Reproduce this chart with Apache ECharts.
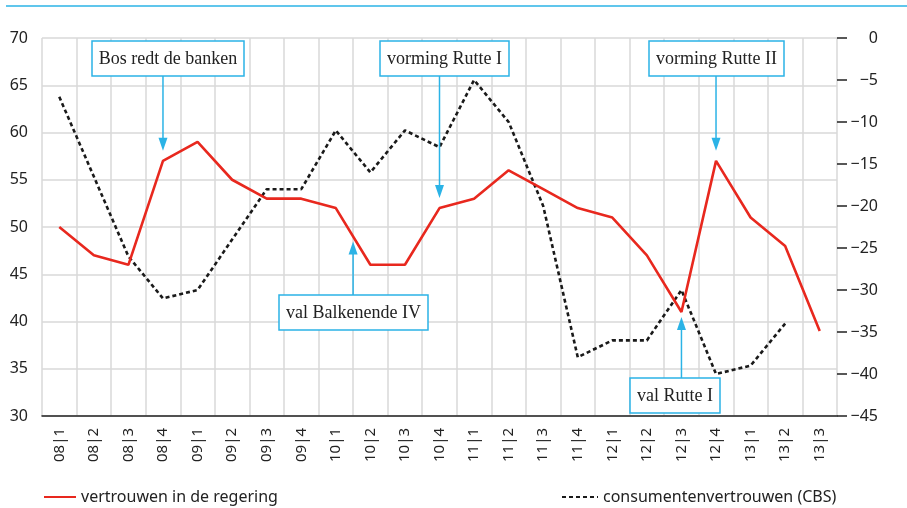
<!DOCTYPE html>
<html>
<head>
<meta charset="utf-8">
<script src="https://cdn.jsdelivr.net/npm/echarts@6/dist/echarts.min.js"></script>
<style>
  html, body { margin: 0; padding: 0; background: #fff; }
  #main { width: 907px; height: 508px; }
</style>
</head>
<body>
<div id="main"></div>
<script>
// kwartalen
var categories = ['08|1','08|2','08|3','08|4','09|1','09|2','09|3','09|4',
                  '10|1','10|2','10|3','10|4','11|1','11|2','11|3','11|4',
                  '12|1','12|2','12|3','12|4','13|1','13|2','13|3'];

// vertrouwen in de regering (linker as)
var regering = [50, 47, 46, 57, 59, 55, 53, 53, 52, 46, 46, 52,
                53, 56, 54, 52, 51, 47, 41, 57, 51, 48, 39];

// consumentenvertrouwen CBS (rechter as)
var consument = [-7, -16.5, -26, -31, -30, -24, -18, -18, -11, -16, -11, -13,
                 -5, -10, -20, -38, -36, -36, -30, -40, -39, -34, null];

var leftTicks = [30, 70, 5];
var rightTicks = [-45, 0, 5];

// gebeurtenissen: categorie (of tussen twee), boven of onder
var events = [
  { text: 'Bos redt de banken', from: '08|4', to: '08|4', side: 'top', boxTop: 41, dx: 5 },
  { text: 'vorming Rutte I', from: '10|4', to: '10|4', side: 'top', boxTop: 41, dx: 5 },
  { text: 'vorming Rutte II', from: '12|4', to: '12|4', side: 'top', boxTop: 41, dx: 0 },
  { text: 'val Balkenende IV', from: '10|1', to: '10|2', side: 'bottom', boxTop: 295, dx: 0 },
  { text: 'val Rutte I', from: '12|3', to: '12|3', side: 'bottom', boxTop: 378, dx: -6 }
];

var BLUE = '#2bb3e6';
var AXISFONT = '"Noto Sans", sans-serif';

var chart = echarts.init(document.getElementById('main'));

var option = {
  animation: false,
  backgroundColor: '#fff',
  grid: { left: 42, right: 70, top: 38, bottom: 92 },
  legend: [
    {
      data: ['vertrouwen in de regering'],
      left: 38, top: 484,
      itemWidth: 32, itemHeight: 14, itemGap: 10,
      itemStyle: { opacity: 0, borderWidth: 0 },
      textStyle: { fontFamily: AXISFONT, fontSize: 16, color: '#222' }
    },
    {
      data: ['consumentenvertrouwen (CBS)'],
      left: 556, top: 484,
      itemWidth: 36, itemHeight: 14, itemGap: 10,
      itemStyle: { opacity: 0, borderWidth: 0 },
      textStyle: { fontFamily: AXISFONT, fontSize: 16, color: '#222' }
    }
  ],
  xAxis: {
    type: 'category',
    data: categories,
    boundaryGap: true,
    axisLine: { onZero: false, lineStyle: { color: '#222', width: 1.5 } },
    axisTick: { alignWithLabel: true, length: 7, lineStyle: { color: '#222', width: 1.5 } },
    axisLabel: { rotate: 90, margin: 12, fontFamily: AXISFONT, fontSize: 15, color: '#222', interval: 0 },
    splitLine: { show: true, lineStyle: { color: '#d9d9d9', width: 1.5 } }
  },
  yAxis: [
    {
      type: 'value',
      min: leftTicks[0], max: leftTicks[1], interval: leftTicks[2],
      axisLine: { show: false },
      axisTick: { show: false },
      axisLabel: { margin: 14, fontFamily: AXISFONT, fontSize: 16, color: '#222' },
      splitLine: { lineStyle: { color: '#d9d9d9', width: 1.5 } }
    },
    {
      type: 'value',
      position: 'right',
      min: rightTicks[0], max: rightTicks[1], interval: rightTicks[2],
      axisLine: { show: false },
      axisTick: { show: true, inside: false, length: 10, lineStyle: { color: '#222', width: 1.5 } },
      axisLabel: {
        margin: 41, align: 'right', fontFamily: AXISFONT, fontSize: 16, color: '#222',
        formatter: function (v) { return v < 0 ? '\u2212' + Math.abs(v) : String(v); }
      },
      splitLine: { show: false }
    }
  ],
  series: [
    {
      name: 'vertrouwen in de regering',
      type: 'line',
      yAxisIndex: 0,
      data: regering,
      symbol: 'none',
      lineStyle: { color: '#e8281e', width: 2.6 },
      itemStyle: { color: '#e8281e' },
      z: 3
    },
    {
      name: 'consumentenvertrouwen (CBS)',
      type: 'line',
      yAxisIndex: 1,
      data: consument,
      symbol: 'none',
      lineStyle: { color: '#1a1a1a', width: 2.6, type: [4, 3] },
      itemStyle: { color: '#1a1a1a' },
      z: 2
    }
  ],
  graphic: []
};

chart.setOption(option);

// tekstbreedte meten
var measureCtx = document.createElement('canvas').getContext('2d');
var BOXFONT = '18px "Liberation Serif", serif';
measureCtx.font = BOXFONT;

function pointFor(ev) {
  var i1 = categories.indexOf(ev.from);
  var i2 = categories.indexOf(ev.to);
  var p1 = chart.convertToPixel({ seriesIndex: 0 }, [i1, regering[i1]]);
  var p2 = chart.convertToPixel({ seriesIndex: 0 }, [i2, regering[i2]]);
  return [(p1[0] + p2[0]) / 2, (p1[1] + p2[1]) / 2];
}

var elems = [];
events.forEach(function (ev) {
  var p = pointFor(ev);
  var w = Math.round(measureCtx.measureText(ev.text).width) + 14;
  var h = 35;
  var bx = Math.round(p[0] + ev.dx - w / 2);
  var by = ev.boxTop;
  var tipY, startY, head;
  if (ev.side === 'top') {
    startY = by + h;
    tipY = p[1] - 10;
    head = [[p[0] - 4.5, tipY - 13], [p[0] + 4.5, tipY - 13], [p[0], tipY]];
  } else {
    startY = by;
    tipY = p[1] + 5;
    head = [[p[0] - 4.5, tipY + 13], [p[0] + 4.5, tipY + 13], [p[0], tipY]];
  }
  elems.push({
    type: 'line', z: 10,
    shape: { x1: p[0], y1: startY, x2: p[0], y2: ev.side === 'top' ? tipY - 10 : tipY + 10 },
    style: { stroke: BLUE, lineWidth: 1.5 }
  });
  elems.push({
    type: 'polygon', z: 10,
    shape: { points: head },
    style: { fill: BLUE }
  });
  elems.push({
    type: 'rect', z: 11,
    shape: { x: bx, y: by, width: w, height: h },
    style: { fill: '#fff', stroke: BLUE, lineWidth: 1.5 }
  });
  elems.push({
    type: 'text', z: 12,
    x: bx + w / 2, y: by + h / 2 + 1,
    style: { text: ev.text, font: BOXFONT, fill: '#222', align: 'center', verticalAlign: 'middle' }
  });
});

// blauwe lijn bovenaan
elems.push({
  type: 'line', z: 10,
  shape: { x1: 6, y1: 6, x2: 907, y2: 6 },
  style: { stroke: BLUE, lineWidth: 1.5 }
});

chart.setOption({ graphic: elems });
</script>
</body>
</html>
